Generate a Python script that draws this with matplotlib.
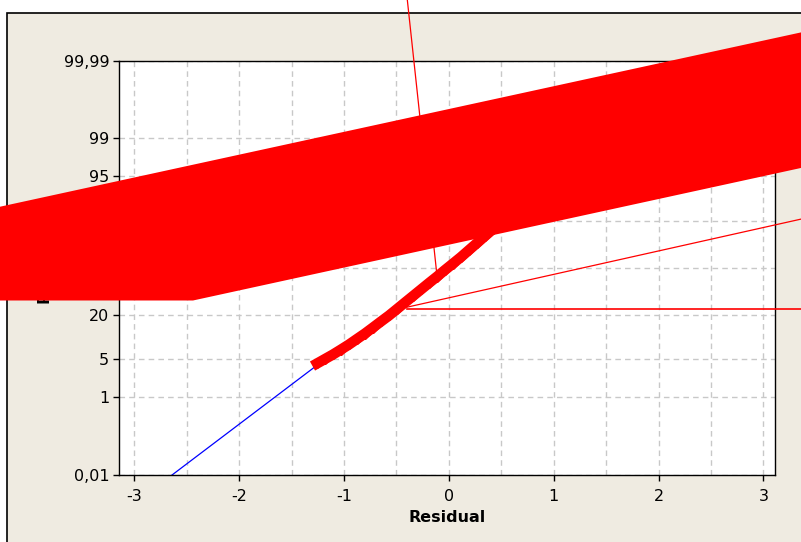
import numpy as np
import matplotlib
matplotlib.use("Agg")
import matplotlib.pyplot as plt
from matplotlib.patches import Polygon, Rectangle
from matplotlib.ticker import MultipleLocator
from statistics import NormalDist

# residuals (x) and their normal-probability percent (y)
residuals = [-1.257, -1.181, -1.105, -1.028, -0.952, -0.876, -0.800, -0.723,
             -0.647, -0.570, -0.494, -0.418, -0.341, -0.265, -0.189, -0.112,
             -0.036, 0.040, 0.116, 0.193, 0.269, 0.345, 0.422, 0.498]
percents = [4.30, 5.09, 5.99, 7.13, 8.44, 10.08, 11.92, 14.21,
            16.78, 19.62, 23.0, 26.7, 30.7, 34.9, 39.3, 43.8,
            48.5, 53.1, 57.7, 62.6, 67.2, 71.6, 75.7, 79.5]

# fitted normal line
fit_residual = [-2.64, 2.58]
fit_percent = [0.01, 99.99]

# red markup drawn over the chart
band_residual = [-4.377, 3.446, 3.446, -2.440, -4.377]
band_percent = [85.50, 99.99899, 96.63, 27.89, 27.89]
mark1_residual = [-0.401, -0.112]
mark1_percent = [99.999952, 43.8]
mark2_residual = [-0.400, 3.446]
mark2_percent = [24.0, 81.9]
mark3_residual = [-0.402, 3.446]
mark3_percent = [22.9, 22.9]

y_ticks = [0.01, 1, 5, 20, 50, 80, 95, 99, 99.99]
y_labels = ['0,01', '1', '5', '20', '50', '80', '95', '99', '99,99']
x_ticks = [-3, -2, -1, 0, 1, 2, 3]

_nd = NormalDist()
_inv = np.vectorize(_nd.inv_cdf, otypes=[float])
_cdf = np.vectorize(_nd.cdf, otypes=[float])


def pct_to_z(p):
    p = np.clip(np.asarray(p, dtype=float) / 100.0, 1e-15, 1 - 1e-15)
    return _inv(p)


def z_to_pct(z):
    return _cdf(np.asarray(z, dtype=float)) * 100.0


beige = '#EFEBE1'
fig = plt.figure(figsize=(8.01, 5.42), dpi=100, facecolor='white')
fig.patches.append(Rectangle((7 / 801, -0.05), 1.1, 1 - 13 / 542 + 0.05,
                             transform=fig.transFigure, facecolor=beige,
                             edgecolor='black', linewidth=1.2, zorder=-1))

ax = fig.add_axes([119.3 / 801, 1 - 475 / 542, (775 - 119.3) / 801, (475 - 60.7) / 542])
ax.set_facecolor('white')
ax.set_yscale('function', functions=(pct_to_z, z_to_pct))
ax.set_xlim(-3.143, 3.111)
ax.set_ylim(0.01, 99.99)

ax.set_yticks(y_ticks, y_labels)
ax.set_xticks(x_ticks, [str(t) for t in x_ticks])
ax.xaxis.set_minor_locator(MultipleLocator(0.5))
ax.yaxis.set_minor_locator(matplotlib.ticker.NullLocator())
ax.tick_params(which='major', direction='out', length=4, width=1, labelsize=11.5,
               colors='black')
ax.tick_params(axis='y', pad=3.2)
ax.tick_params(axis='x', pad=6.4)
ax.tick_params(which='minor', length=0)
ax.grid(True, which='both', color='#C8C8C8', linestyle=(0, (4, 3)), linewidth=1)
for s in ax.spines.values():
    s.set_color('black')
    s.set_linewidth(1)

ax.set_xlabel('Residual', fontsize=11.5, fontweight='bold', labelpad=4)
ax.set_ylabel('Percent', fontsize=11.5, fontweight='bold')
ax.yaxis.set_label_coords(-0.1031, 0.5)

ax.plot(fit_residual, fit_percent, color='#0000FF', linewidth=0.9, zorder=2)
ax.plot(residuals, percents, color='#FF0000', linewidth=7.5, marker='D',
        markersize=5.5, markeredgecolor='#FF0000', zorder=3)

for xs, ys, lw in [(mark1_residual, mark1_percent, 0.9),
                   (mark2_residual, mark2_percent, 0.9),
                   (mark3_residual, mark3_percent, 1.2)]:
    ax.plot(xs, ys, color='#FF0000', linewidth=lw, clip_on=False, zorder=4)

ax.add_patch(Polygon(list(zip(band_residual, band_percent)), closed=True,
                     facecolor='#FF0000', edgecolor='none', clip_on=False, zorder=5))

fig.savefig('out.png', dpi=100)
